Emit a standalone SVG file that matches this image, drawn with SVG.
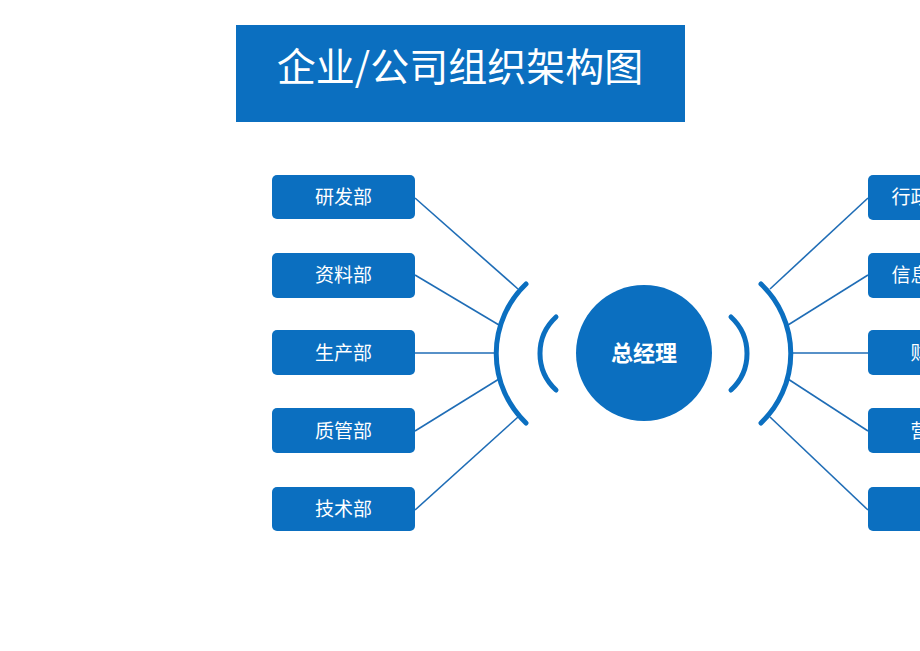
<svg xmlns="http://www.w3.org/2000/svg" width="920" height="651" viewBox="0 0 920 651">
<style>
.box{fill:#0b6fc0}
.lbl{font-family:"Noto Sans CJK SC","Microsoft YaHei",sans-serif;font-size:19px;fill:#ffffff;text-anchor:middle}
.conn{stroke:#1f6db6;stroke-width:1.6;fill:none}
.arc{stroke:#0b6fc0;stroke-width:5;fill:none;stroke-linecap:round}
</style>
<rect width="920" height="651" fill="#ffffff"/>
<g id="title">
<rect x="236" y="25" width="449" height="97" fill="#0b6fc0"/>
<text x="460" y="81" font-family="'Noto Sans CJK SC','Microsoft YaHei',sans-serif" font-size="39" fill="#ffffff" text-anchor="middle">企业/公司组织架构图</text>
</g>
<g id="connectors">
<line class="conn" x1="415" y1="198" x2="518" y2="289"/>
<line class="conn" x1="415" y1="275" x2="499" y2="325"/>
<line class="conn" x1="415" y1="353" x2="497" y2="353"/>
<line class="conn" x1="415" y1="431" x2="499" y2="379"/>
<line class="conn" x1="415" y1="510" x2="518" y2="417"/>
<line class="conn" x1="868" y1="198" x2="770" y2="289"/>
<line class="conn" x1="868" y1="275" x2="788" y2="325"/>
<line class="conn" x1="868" y1="353" x2="792" y2="353"/>
<line class="conn" x1="868" y1="431" x2="788" y2="379"/>
<line class="conn" x1="868" y1="510" x2="770" y2="417"/>
</g>
<g id="arcs">
<path class="arc" d="M 526 284 A 96 96 0 0 0 526 423"/>
<path class="arc" d="M 761 284 A 96 96 0 0 1 761 423"/>
<path class="arc" d="M 556 317 A 49.6 49.6 0 0 0 556 390"/>
<path class="arc" d="M 731 317 A 49.6 49.6 0 0 1 731 390"/>
</g>
<g id="gm">
<circle cx="644" cy="353" r="68" fill="#0b6fc0"/>
<text x="644" y="361" font-family="'Noto Sans CJK SC','Microsoft YaHei',sans-serif" font-size="22" font-weight="bold" fill="#ffffff" text-anchor="middle">总经理</text>
</g>
<g id="n-yanfa"><rect class="box" x="272" y="175" width="143" height="44" rx="5"/><text class="lbl" x="343.5" y="204">研发部</text></g>
<g id="n-ziliao"><rect class="box" x="272" y="253" width="143" height="45" rx="5"/><text class="lbl" x="343.5" y="282">资料部</text></g>
<g id="n-shengchan"><rect class="box" x="272" y="330" width="143" height="45" rx="5"/><text class="lbl" x="343.5" y="360">生产部</text></g>
<g id="n-zhiguan"><rect class="box" x="272" y="408" width="143" height="45" rx="5"/><text class="lbl" x="343.5" y="438">质管部</text></g>
<g id="n-jishu"><rect class="box" x="272" y="487" width="143" height="44" rx="5"/><text class="lbl" x="343.5" y="516">技术部</text></g>
<g id="n-xingzheng"><rect class="box" x="868" y="175" width="143" height="45" rx="5"/><text class="lbl" x="939" y="204">行政人事部</text></g>
<g id="n-xinxi"><rect class="box" x="868" y="253" width="143" height="45" rx="5"/><text class="lbl" x="939" y="282">信息技术部</text></g>
<g id="n-caiwu"><rect class="box" x="868" y="330" width="143" height="45" rx="5"/><text class="lbl" x="939" y="360">财务部</text></g>
<g id="n-yingxiao"><rect class="box" x="868" y="408" width="143" height="45" rx="5"/><text class="lbl" x="939" y="438">营销部</text></g>
<g id="n-right5"><rect class="box" x="868" y="487" width="143" height="44" rx="5"/></g>
</svg>
